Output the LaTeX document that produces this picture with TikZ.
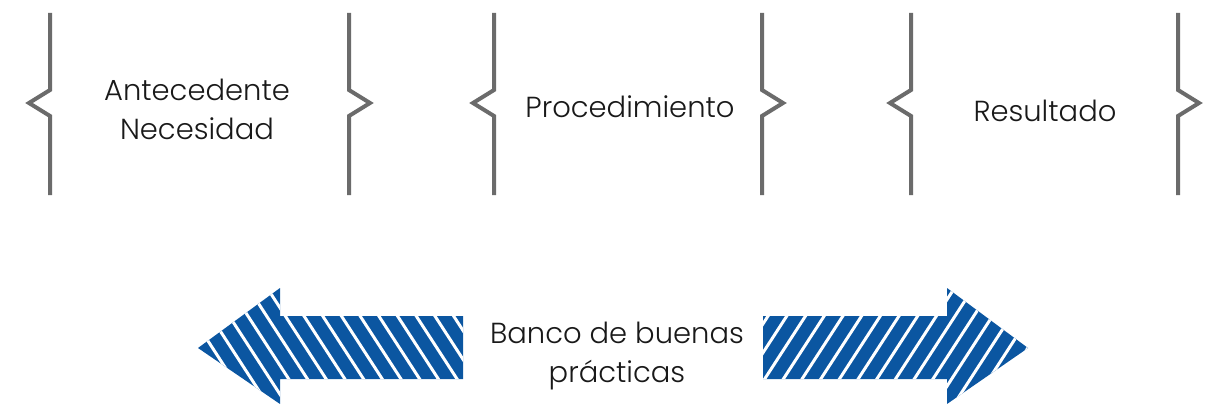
\documentclass[tikz,border=0pt]{standalone}
\usepackage{fontspec}
\setmainfont{Poppins Light}
\usepackage{tikz}
\definecolor{braceGray}{HTML}{6B6B6B}
\definecolor{bancoBlue}{HTML}{0B56A1}
\newcommand{\openBrace}[1]{\draw[brace line] (#1,13) -- (#1,90) -- ++(-21,13) -- ++(21,13) -- (#1,195);}
\newcommand{\closeBrace}[1]{\draw[brace line] (#1,13) -- (#1,90) -- ++(21,13) -- ++(-21,13) -- (#1,195);}

\begin{document}
\begin{tikzpicture}[x=1pt, y=-1pt]
  \tikzset{brace line/.style={draw=braceGray, line width=4pt},
           label text/.style={align=center, font=\fontsize{29}{39}\selectfont, text=black!90},
           stripe/.style={draw=white, line width=3pt}}
  \useasboundingbox (0,0) rectangle (1205,404);
  % braces
  \openBrace{50}
  \closeBrace{349}
  \openBrace{494}
  \closeBrace{762}
  \openBrace{911}
  \closeBrace{1178}
  % labels
  \node[label text] (antecedente) at (197,109) {Antecedente\\Necesidad};
  \node[label text] (procedimiento) at (630,107) {Procedimiento};
  \node[label text] (resultado) at (1045,111) {Resultado};
  \node[label text] (banco) at (617,356) {Banco de buenas\\prácticas};
  % left arrow
  \fill[bancoBlue] (198,348) -- (280,288) -- (280,316) -- (463,316) -- (463,379) -- (280,379) -- (280,404) -- cycle;
  \begin{scope}
    \clip (198,348) -- (280,288) -- (280,316) -- (463,316) -- (463,379) -- (280,379) -- (280,404) -- cycle;
    \foreach \x in {93.7,112.4,...,480}
      \draw[stripe] (\x,280) -- ++(81,125);
  \end{scope}
  % right arrow
  \fill[bancoBlue] (1028,348) -- (947,288) -- (947,316) -- (763,316) -- (763,379) -- (947,379) -- (947,404) -- cycle;
  \begin{scope}
    \clip (1028,348) -- (947,288) -- (947,316) -- (763,316) -- (763,379) -- (947,379) -- (947,404) -- cycle;
    \foreach \x in {754,772.7,...,1140}
      \draw[stripe] (\x,280) -- ++(-81,125);
  \end{scope}
\end{tikzpicture}
\end{document}
